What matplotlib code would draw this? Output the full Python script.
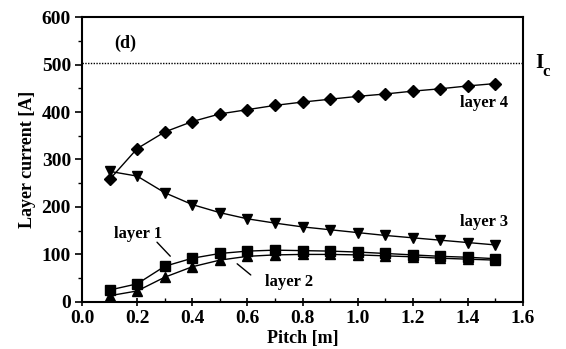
import matplotlib
matplotlib.use("Agg")
import matplotlib.pyplot as plt
from matplotlib.ticker import MultipleLocator

pitch = [0.1, 0.2, 0.3, 0.4, 0.5, 0.6, 0.7, 0.8, 0.9, 1.0, 1.1, 1.2, 1.3, 1.4, 1.5]
layer1 = [25, 38, 75, 92, 102, 107, 109, 108, 107, 105, 102, 99, 96, 94, 91]
layer2 = [13, 23, 52, 74, 88, 96, 99, 100, 100, 99, 97, 95, 92, 90, 88]
layer3 = [275, 265, 230, 205, 188, 175, 166, 158, 152, 146, 140, 135, 130, 125, 120]
layer4 = [258, 323, 358, 380, 396, 405, 414, 421, 427, 433, 438, 444, 449, 455, 460]
ic_value = 503

plt.rcParams['font.family'] = ['Liberation Serif', 'DejaVu Serif']
plt.rcParams['font.weight'] = 'bold'

fig = plt.figure(figsize=(5.66, 3.49), dpi=100)
ax = fig.add_axes([0.145, 0.135, 0.779, 0.816])

lw = 1.0
ax.plot(pitch, layer4, color='black', lw=lw, marker='D', ms=6.5)
ax.plot(pitch, layer3, color='black', lw=lw, marker='v', ms=7.5)
ax.plot(pitch, layer1, color='black', lw=lw, marker='s', ms=6.5)
ax.plot(pitch, layer2, color='black', lw=lw, marker='^', ms=7.5)
ax.axhline(ic_value, color='black', lw=1.0, ls=(0, (1, 1)))

ax.set_xlim(0, 1.6)
ax.set_ylim(0, 600)
ax.xaxis.set_major_locator(MultipleLocator(0.2))
ax.xaxis.set_minor_locator(MultipleLocator(0.1))
ax.yaxis.set_major_locator(MultipleLocator(100))
ax.yaxis.set_minor_locator(MultipleLocator(50))
ax.xaxis.set_major_formatter(matplotlib.ticker.FormatStrFormatter('%.1f'))
ax.tick_params(axis='x', which='major', direction='inout', length=6, width=1.2, labelsize=14, pad=3)
ax.tick_params(axis='x', which='minor', direction='in', length=3, width=1)
ax.tick_params(axis='y', which='major', direction='out', length=5, width=1.2, labelsize=14, pad=3)
ax.tick_params(axis='y', which='minor', direction='out', length=3, width=1)
for lab in ax.get_xticklabels() + ax.get_yticklabels():
    lab.set_fontweight('bold')
for s in ax.spines.values():
    s.set_linewidth(1.5)

ax.set_xlabel('Pitch [m]', fontsize=13, fontweight='bold', labelpad=2)
ax.set_ylabel('Layer current [A]', fontsize=13, fontweight='bold', labelpad=4)

ax.text(0.115, 545, '(d)', fontsize=13, fontweight='bold', va='center')
ax.text(1.645, 503, 'I', fontsize=15, fontweight='bold', va='center', clip_on=False)
ax.text(1.672, 485, 'c', fontsize=12, fontweight='bold', va='center', clip_on=False)
ax.text(1.545, 419, 'layer 4', fontsize=12, fontweight='bold', ha='right', va='center')
ax.text(1.545, 168, 'layer 3', fontsize=12, fontweight='bold', ha='right', va='center')
ax.text(0.115, 142, 'layer 1', fontsize=12, fontweight='bold', va='center')
ax.text(0.664, 42, 'layer 2', fontsize=12, fontweight='bold', va='center')
ax.annotate('', xy=(0.327, 92), xytext=(0.265, 130),
            arrowprops=dict(arrowstyle='-', lw=1.0, color='black'))
ax.annotate('', xy=(0.555, 84), xytext=(0.62, 53),
            arrowprops=dict(arrowstyle='-', lw=1.0, color='black'))

fig.savefig('out.png', dpi=100)
